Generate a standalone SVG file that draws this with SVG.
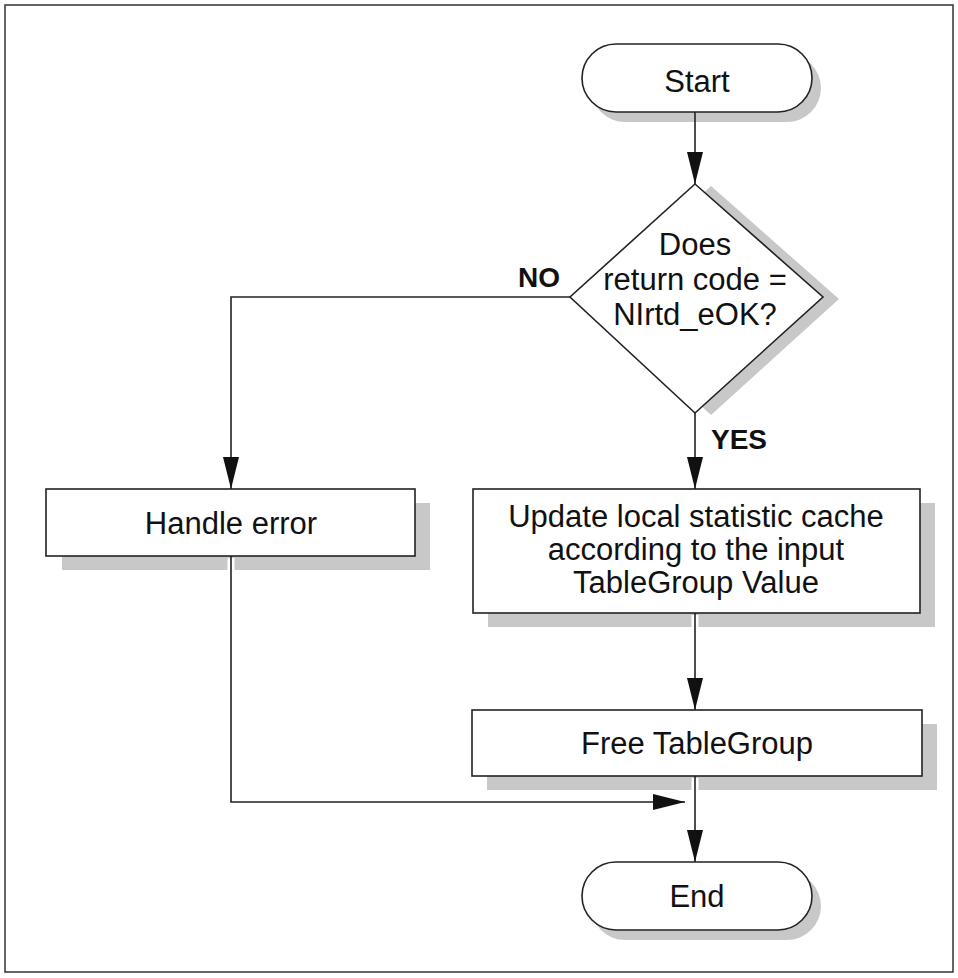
<svg xmlns="http://www.w3.org/2000/svg" width="958" height="978" viewBox="0 0 958 978">
<style>
.shadow{fill:#c8c8c8;stroke:none}
.shape{fill:#fff;stroke:#222;stroke-width:1.6}
.lbl{font-family:"Liberation Sans",Arial,sans-serif;font-size:31px;fill:#111;text-anchor:middle}
.bold{font-family:"Liberation Sans",Arial,sans-serif;font-size:28px;font-weight:bold;fill:#111}
.conn{fill:none;stroke:#222;stroke-width:1.6}
.halo{fill:none;stroke:#fff;stroke-width:7}
</style>
<defs>
<marker id="arr" markerUnits="userSpaceOnUse" markerWidth="32" markerHeight="16" refX="32" refY="8" orient="auto" viewBox="0 0 32 16">
<path d="M0,0 L32,8 L0,16 z" fill="#111"/>
</marker>
</defs>
<rect x="5" y="5" width="948" height="967" fill="#fff" stroke="#333" stroke-width="1.5"/>
<g id="start">
<rect class="shadow" x="591" y="54" width="230" height="68" rx="34"/>
<rect class="shape" x="582" y="44" width="230" height="68" rx="34"/>
<text class="lbl" x="697" y="92">Start</text>
</g>
<g id="decision">
<polygon class="shadow" points="711,186 839,299 711,415 586,299"/>
<polygon class="shape" points="695,184 823,297 695,413 570,297"/>
<text class="lbl" x="695" y="255">Does</text>
<text class="lbl" x="695" y="290">return code =</text>
<text class="lbl" x="695" y="325">NIrtd_eOK?</text>
</g>
<g id="handle">
<rect class="shadow" x="62" y="503" width="368" height="67"/>
<rect class="shape" x="46" y="489" width="369" height="67"/>
<text class="lbl" x="231" y="534">Handle error</text>
</g>
<g id="update">
<rect class="shadow" x="488" y="503" width="447" height="124"/>
<rect class="shape" x="473" y="489" width="447" height="124"/>
<text class="lbl" x="696" y="527">Update local statistic cache</text>
<text class="lbl" x="696" y="560">according to the input</text>
<text class="lbl" x="696" y="593">TableGroup Value</text>
</g>
<g id="free">
<rect class="shadow" x="487" y="724" width="450" height="66"/>
<rect class="shape" x="472" y="710" width="450" height="66"/>
<text class="lbl" x="697" y="754">Free TableGroup</text>
</g>
<g id="end">
<rect class="shadow" x="591" y="872" width="230" height="68" rx="34"/>
<rect class="shape" x="582" y="862" width="230" height="68" rx="34"/>
<text class="lbl" x="697" y="907">End</text>
</g>
<g id="labels">
<text class="bold" x="518" y="287">NO</text>
<text class="bold" x="711" y="449">YES</text>
</g>
<g id="connectors">
<path class="halo" d="M231,558 L231,572"/>
<path class="halo" d="M695,615 L695,629"/>
<path class="halo" d="M695,778 L695,792"/>
<path class="conn" d="M695,112 L695,184" marker-end="url(#arr)"/>
<path class="conn" d="M695,413 L695,489" marker-end="url(#arr)"/>
<path class="conn" d="M570,297 L231,297 L231,489" marker-end="url(#arr)"/>
<path class="conn" d="M695,613 L695,710" marker-end="url(#arr)"/>
<path class="conn" d="M695,776 L695,862" marker-end="url(#arr)"/>
<path class="conn" d="M231,556 L231,802 L685,802" marker-end="url(#arr)"/>
</g>
</svg>
